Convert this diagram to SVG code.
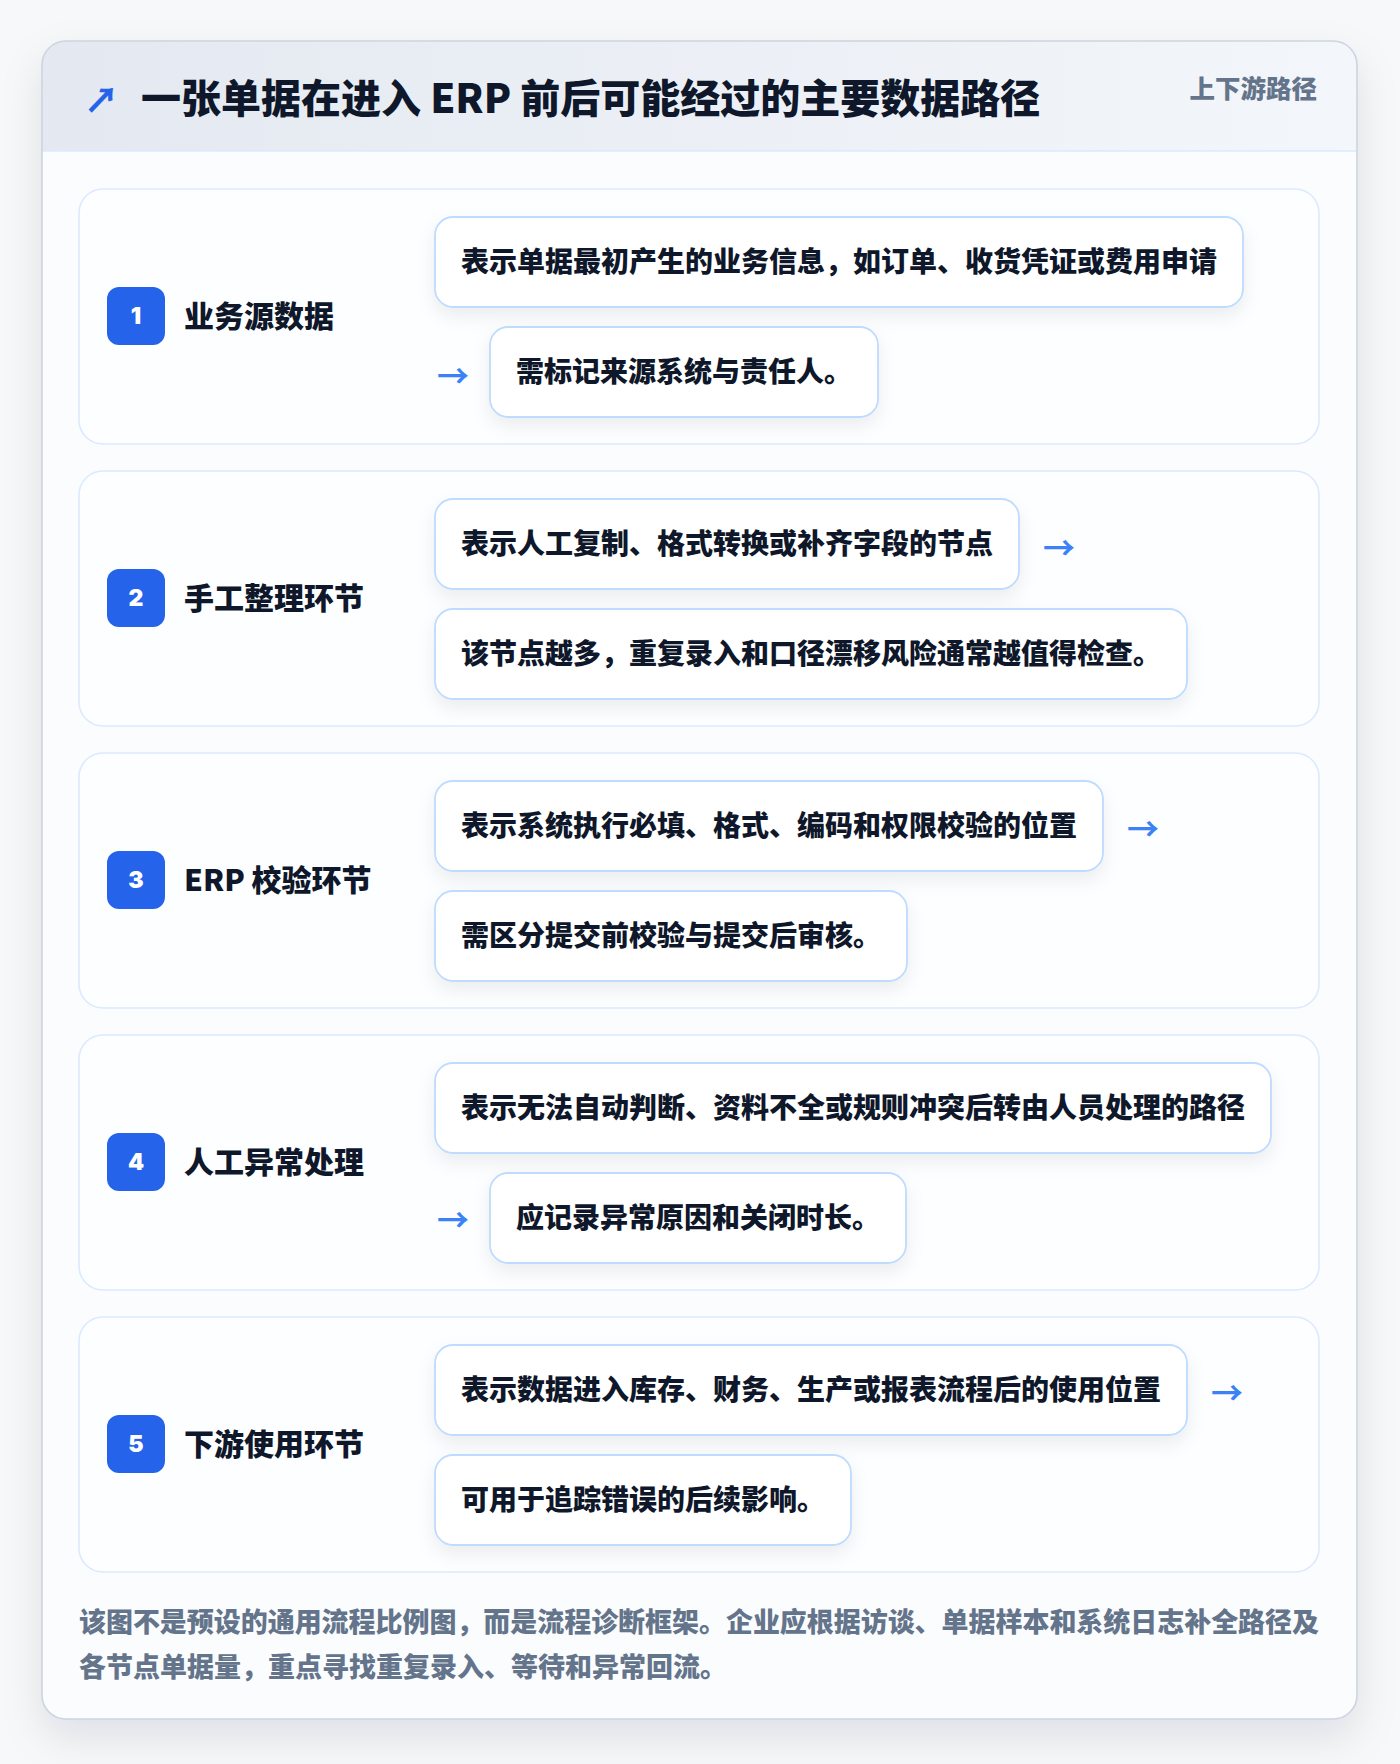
<svg xmlns="http://www.w3.org/2000/svg" width="1400" height="1764" viewBox="0 0 1400 1764">
<defs>
<linearGradient id="hdr" x1="0" y1="0" x2="1" y2="0">
<stop offset="0" stop-color="#e4e9f1"/>
<stop offset="1" stop-color="#f3f6fa"/>
</linearGradient>
<filter id="cardShadow" x="-10%" y="-10%" width="120%" height="120%">
<feDropShadow dx="0" dy="18" stdDeviation="20" flood-color="#0f172a" flood-opacity="0.10"/>
</filter>
<filter id="boxShadow" x="-10%" y="-30%" width="120%" height="170%">
<feDropShadow dx="0" dy="8" stdDeviation="9" flood-color="#0f172a" flood-opacity="0.07"/>
</filter>
<clipPath id="cardClip"><rect x="42" y="41" width="1315" height="1678" rx="24"/></clipPath>
<style>
.t{font-family:"Noto Sans CJK SC","Noto Sans",sans-serif;font-weight:900;}
.title{font-size:40px;fill:#0f172a;}
.tag{font-size:25.5px;fill:#64748b;}
.row{fill:#fdfeff;stroke:#dbeafe;stroke-width:1.6;}
.badge{fill:#2563eb;}
.num{font-family:Inter,"Noto Sans",sans-serif;font-weight:900;font-size:23px;fill:#ffffff;}
.label{font-size:30px;fill:#0f172a;}
.box{fill:#ffffff;stroke:#bfdbfe;stroke-width:1.8;}
.btxt{font-size:28px;fill:#0f172a;}
.arr{font-family:"Noto Sans CJK SC","Noto Sans",sans-serif;font-weight:700;font-size:32px;fill:#3b82f6;}
.foot{font-size:27px;fill:#64748b;}
</style>
</defs>
<rect x="0" y="0" width="1400" height="1764" fill="#f7f8fa"/>
<g id="card">
<rect x="42" y="41" width="1315" height="1678" rx="24" fill="#fafcfe" filter="url(#cardShadow)"/>
<g clip-path="url(#cardClip)">
<rect x="42" y="41" width="1315" height="110" fill="url(#hdr)"/>
</g>
<line x1="42" y1="151" x2="1357" y2="151" stroke="#dbeafe" stroke-width="1.6"/>
<rect x="42" y="41" width="1315" height="1678" rx="24" fill="none" stroke="#cbd5e1" stroke-width="1.6"/>
</g>
<g id="header">
<text x="84" y="113" style="font-family:'Noto Sans CJK SC','DejaVu Sans',sans-serif;font-size:35px;fill:#2563eb;font-weight:900;">↗</text>
<text class="t title" x="141" y="113">一张单据在进入 ERP 前后可能经过的主要数据路径</text>
<text class="t tag" x="1317" y="98" text-anchor="end">上下游路径</text>
</g>
<g id="step1">
<rect class="row" x="79" y="189" width="1240" height="255" rx="24"/>
<rect class="badge" x="107" y="287" width="58" height="58" rx="12"/>
<text class="num" x="136" y="324" text-anchor="middle">1</text>
<text class="t label" x="184" y="327">业务源数据</text>
<g filter="url(#boxShadow)">
<rect class="box" x="435" y="217" width="808" height="90" rx="18"/>
<rect class="box" x="490" y="327" width="388" height="90" rx="18"/>
</g>
<text class="t btxt" x="461" y="272">表示单据最初产生的业务信息，如订单、收货凭证或费用申请</text>
<text class="t btxt" x="516" y="382">需标记来源系统与责任人。</text>
</g>
<g id="step2">
<rect class="row" x="79" y="471" width="1240" height="255" rx="24"/>
<rect class="badge" x="107" y="569" width="58" height="58" rx="12"/>
<text class="num" x="136" y="606" text-anchor="middle">2</text>
<text class="t label" x="184" y="609">手工整理环节</text>
<g filter="url(#boxShadow)">
<rect class="box" x="435" y="499" width="584" height="90" rx="18"/>
<rect class="box" x="435" y="609" width="752" height="90" rx="18"/>
</g>
<text class="t btxt" x="461" y="554">表示人工复制、格式转换或补齐字段的节点</text>
<text class="t btxt" x="461" y="664">该节点越多，重复录入和口径漂移风险通常越值得检查。</text>
</g>
<g id="step3">
<rect class="row" x="79" y="753" width="1240" height="255" rx="24"/>
<rect class="badge" x="107" y="851" width="58" height="58" rx="12"/>
<text class="num" x="136" y="888" text-anchor="middle">3</text>
<text class="t label" x="184" y="891">ERP 校验环节</text>
<g filter="url(#boxShadow)">
<rect class="box" x="435" y="781" width="668" height="90" rx="18"/>
<rect class="box" x="435" y="891" width="472" height="90" rx="18"/>
</g>
<text class="t btxt" x="461" y="836">表示系统执行必填、格式、编码和权限校验的位置</text>
<text class="t btxt" x="461" y="946">需区分提交前校验与提交后审核。</text>
</g>
<g id="step4">
<rect class="row" x="79" y="1035" width="1240" height="255" rx="24"/>
<rect class="badge" x="107" y="1133" width="58" height="58" rx="12"/>
<text class="num" x="136" y="1170" text-anchor="middle">4</text>
<text class="t label" x="184" y="1173">人工异常处理</text>
<g filter="url(#boxShadow)">
<rect class="box" x="435" y="1063" width="836" height="90" rx="18"/>
<rect class="box" x="490" y="1173" width="416" height="90" rx="18"/>
</g>
<text class="t btxt" x="461" y="1118">表示无法自动判断、资料不全或规则冲突后转由人员处理的路径</text>
<text class="t btxt" x="516" y="1228">应记录异常原因和关闭时长。</text>
</g>
<g id="step5">
<rect class="row" x="79" y="1317" width="1240" height="255" rx="24"/>
<rect class="badge" x="107" y="1415" width="58" height="58" rx="12"/>
<text class="num" x="136" y="1452" text-anchor="middle">5</text>
<text class="t label" x="184" y="1455">下游使用环节</text>
<g filter="url(#boxShadow)">
<rect class="box" x="435" y="1345" width="752" height="90" rx="18"/>
<rect class="box" x="435" y="1455" width="416" height="90" rx="18"/>
</g>
<text class="t btxt" x="461" y="1400">表示数据进入库存、财务、生产或报表流程后的使用位置</text>
<text class="t btxt" x="461" y="1510">可用于追踪错误的后续影响。</text>
</g>
<g id="connectors">
<text class="arr" x="437" y="388">→</text>
<text class="arr" x="1043" y="560">→</text>
<text class="arr" x="1127" y="841">→</text>
<text class="arr" x="437" y="1232">→</text>
<text class="arr" x="1211" y="1405">→</text>
</g>
<g id="footer">
<text class="t foot" x="79" y="1632" textLength="1240" lengthAdjust="spacing">该图不是预设的通用流程比例图，而是流程诊断框架。企业应根据访谈、单据样本和系统日志补全路径及</text>
<text class="t foot" x="79" y="1677">各节点单据量，重点寻找重复录入、等待和异常回流。</text>
</g>
</svg>
